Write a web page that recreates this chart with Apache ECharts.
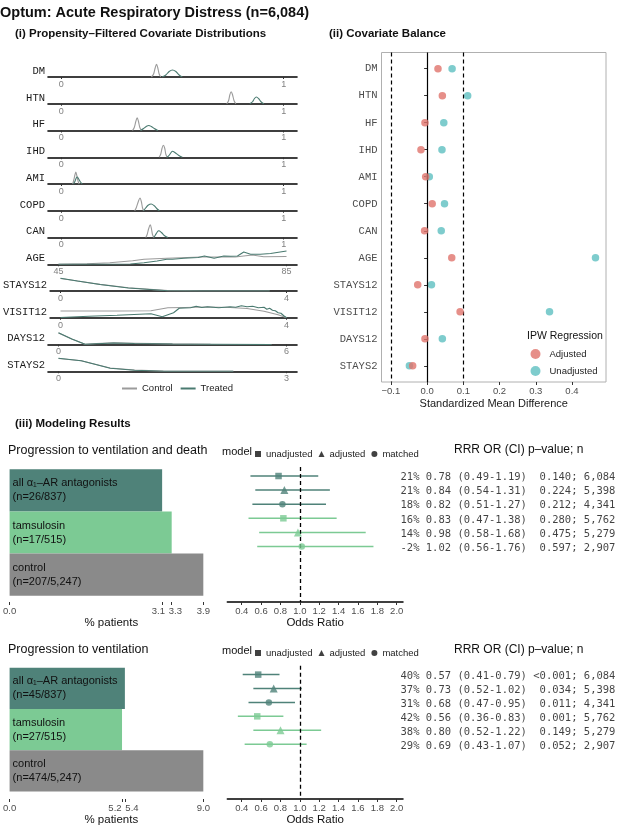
<!DOCTYPE html>
<html><head><meta charset="utf-8">
<script src="https://cdn.jsdelivr.net/npm/echarts@6/dist/echarts.min.js"></script>
<style>html,body{margin:0;padding:0;background:#fff}#c{width:617px;height:827px}</style>
</head><body><div id="c"></div>
<script>
// ---------- data ----------
const covariates = ['DM','HTN','HF','IHD','AMI','COPD','CAN','AGE','STAYS12','VISIT12','DAYS12','STAYS2'];
const densityTicks = [[0,1],[0,1],[0,1],[0,1],[0,1],[0,1],[0,1],[45,85],[0,4],[0,4],[0,6],[0,3]];
const controlDensity = [
  [[0.405,0],[0.415,3],[0.422,9],[0.428,12.7],[0.434,9],[0.44,3],[0.447,0]],
  [[0.744,0],[0.752,3],[0.758,9],[0.764,12],[0.77,9],[0.777,3],[0.785,0]],
  [[0.32,0],[0.328,3],[0.335,9],[0.341,12.7],[0.347,9],[0.353,3],[0.36,0]],
  [[0.44,0],[0.447,3],[0.453,9],[0.459,12],[0.465,9],[0.47,3],[0.476,0]],
  [[0.051,0],[0.056,4],[0.061,9],[0.065,12],[0.07,8],[0.075,3],[0.08,0]],
  [[0.33,0],[0.337,3],[0.346,9],[0.354,12.7],[0.36,9],[0.365,3],[0.37,0]],
  [[0.38,0],[0.386,3],[0.393,9],[0.4,12.7],[0.405,9],[0.41,3],[0.416,0]],
  [[45,0],[50,0.5],[54,1.5],[58,3.5],[60,5],[64,6],[70,7.3],[76,7.3],[79,9.3],[81,7.5],[85,7.7]],
  [[0,12.5],[0.3,10],[0.7,6.6],[1.2,3.2],[1.9,0.4],[2.5,0],[3.7,0]],
  [[0,6.7],[0.5,6.7],[1,6.7],[1.6,7],[1.9,10],[2.2,10.3],[2.6,10.7],[3,10.3],[3.3,9.3],[3.6,6.5],[3.85,3],[4,0]],
  [[0,11.5],[0.35,5.6],[0.7,0.3],[1,1],[1.45,1.6],[2,1.2],[3,0.6],[4,0.3],[5.6,0]],
  [[0,12.8],[0.3,10.5],[0.68,3.3],[1,1.2],[1.38,0.1],[2.3,0]]
];
const treatedDensity = [
  [[0.453,0],[0.47,2],[0.485,5.5],[0.5,7],[0.515,5.5],[0.53,2],[0.544,0]],
  [[0.848,0],[0.86,2],[0.868,5],[0.877,6.7],[0.888,5],[0.898,2],[0.911,0]],
  [[0.356,0],[0.37,2],[0.382,4],[0.393,5],[0.405,4],[0.418,2],[0.434,0]],
  [[0.476,0],[0.485,2],[0.493,4.5],[0.5,6],[0.512,4.5],[0.527,2],[0.544,0]],
  [[0.055,0],[0.062,3],[0.067,6],[0.072,7],[0.078,5],[0.086,2],[0.094,0]],
  [[0.37,0],[0.38,3],[0.39,5.5],[0.404,6.7],[0.418,5],[0.43,2],[0.441,0]],
  [[0.416,0],[0.423,2.5],[0.43,5],[0.438,6.7],[0.45,5],[0.463,2],[0.479,0]],
  [[45,0],[53,0],[57.6,0.3],[60,1.5],[62.3,3.3],[64,5],[65,5],[67,6],[69.5,6.7],[70.6,8.3],[72.3,6],[74,8.3],[75.2,8],[76.4,8.3],[77.5,12.3],[78.7,10],[80.4,10],[82.2,10.7],[85,13.3]],
  [[0,12.7],[0.3,10],[0.7,6.5],[1.2,3],[1.9,0.3],[2.5,0],[3.7,0]],
  [[0,0.3],[0.5,1.5],[1,2.5],[1.6,4],[1.8,1],[2,5],[2.1,9.5],[2.3,10],[2.4,11.5],[2.5,10.3],[2.6,11],[2.8,10],[3,11],[3.1,10.5],[3.2,12],[3.3,11],[3.4,11.5],[3.5,10],[3.6,10.5],[3.65,8.5],[3.7,9.5],[3.75,7.5],[3.8,7],[3.85,5],[3.9,4.5],[3.95,2],[4,0]],
  [[0,11.7],[0.35,5.5],[0.7,0.2],[1,0.8],[1.45,1.5],[2,1],[3,0.5],[4,0.3],[5.6,0]],
  [[0,13],[0.3,10.5],[0.68,3],[1,1],[1.38,0],[2.3,0]]
];
const smdAdjusted   = [0.030,0.042,-0.006,-0.017,-0.004,0.014,-0.007,0.068,-0.026,0.091,-0.006,-0.040];
const smdUnadjusted = [0.069,0.112,0.046,0.041,0.006,0.048,0.039,0.465,0.012,0.338,0.042,-0.049];
const smdTicks = [-0.1,0,0.1,0.2,0.3,0.4];

const groups = ['all α₁–AR antagonists','tamsulosin','control'];
const groupTotals = [837,515,5247];
const ventDeathEvents = [26,17,207];
const ventEvents = [45,27,474];
const models = ['unadjusted','adjusted','matched'];
const orTicks = [0.4,0.6,0.8,1.0,1.2,1.4,1.6,1.8,2.0];

const ventDeathRRR = ['21%','21%','18%','16%','14%','-2%'];
const ventDeathOR  = [0.78,0.84,0.82,0.83,0.98,1.02];
const ventDeathLo  = [0.49,0.54,0.51,0.47,0.58,0.56];
const ventDeathHi  = [1.19,1.31,1.27,1.38,1.68,1.76];
const ventDeathP   = ['0.140','0.224','0.212','0.280','0.475','0.597'];
const ventRRR = ['40%','37%','31%','42%','38%','29%'];
const ventOR  = [0.57,0.73,0.68,0.56,0.80,0.69];
const ventLo  = [0.41,0.52,0.47,0.36,0.52,0.43];
const ventHi  = [0.79,1.02,0.95,0.83,1.22,1.07];
const ventP   = ['<0.001','0.034','0.011','0.001','0.149','0.052'];
const modelN  = ['6,084','5,398','4,341','5,762','5,279','2,907'];

// ---------- build ----------
const SANS='Liberation Sans', MONO='Liberation Mono', TMONO='DejaVu Sans Mono';
const CTRL='#9b9b9b', TRT='#4a7a70';
const RED='#e0736c', TEAL='#5ebfc1';
const DARK='#4f8279', LIGHT='#7cca94', GRAY='#8a8a8a';
const barColors=[DARK, LIGHT, GRAY];
const grid=[], xAxis=[], yAxis=[], series=[];

covariates.forEach((name,i)=>{
  const lineY = 77 + i*26.75;
  grid.push({left:48, top:lineY-14, width:249, height:14});
  const t = densityTicks[i], span=t[1]-t[0], e = i<7?0.06:0.046;
  xAxis.push({gridIndex:i, type:'value', min:t[0]-e*span, max:t[1]+e*span, splitLine:{show:false},
    axisLine:{onZero:false, lineStyle:{color:'#000',width:1.6}},
    axisTick:{show:true, customValues:t, length:2, lineStyle:{color:'#333'}},
    axisLabel:{customValues:t, color:'#808080', fontSize:9, margin:3, formatter:v=>String(v)}});
  yAxis.push({gridIndex:i, type:'value', min:0, max:14, splitLine:{show:false}, axisLine:{show:false}, axisTick:{show:false},
    axisLabel:{customValues:[6], formatter:()=>name, fontFamily:MONO, fontSize:10.5, color:'#1a1a1a', margin:3}});
  series.push({type:'line', name:'Control', xAxisIndex:i, yAxisIndex:i, data:controlDensity[i], showSymbol:false, smooth:i<7?0.35:false,
    lineStyle:{color:CTRL,width:1.1}, itemStyle:{color:CTRL}, z:2});
  series.push({type:'line', name:'Treated', xAxisIndex:i, yAxisIndex:i, data:treatedDensity[i], showSymbol:false, smooth:i<7?0.35:false,
    lineStyle:{color:TRT,width:1.1}, itemStyle:{color:TRT}, z:3});
});

// covariate balance
let gb = grid.length;
grid.push({left:381.5, top:52.5, width:224.5, height:329.5, show:true, borderColor:'#b0b0b0', borderWidth:1});
xAxis.push({gridIndex:gb, type:'value', min:-0.126, max:0.494, splitLine:{show:false}, axisLine:{show:false},
  axisTick:{show:true, customValues:smdTicks, length:3, lineStyle:{color:'#333'}},
  axisLabel:{customValues:smdTicks, color:'#4d4d4d', fontSize:9.5, margin:4, formatter:v=>v.toFixed(1).replace('-','−')},
  name:'Standardized Mean Difference', nameLocation:'middle', nameGap:16, nameTextStyle:{fontSize:11, color:'#1a1a1a'}});
const rowIdx = covariates.map((c,i)=>i+1);
yAxis.push({gridIndex:gb, type:'value', inverse:true, min:0.4, max:12.6, splitLine:{show:false}, axisLine:{show:false},
  axisTick:{show:true, customValues:rowIdx, length:3, lineStyle:{color:'#333'}},
  axisLabel:{customValues:rowIdx, formatter:v=>covariates[Math.round(v)-1], fontFamily:MONO, fontSize:10.5, color:'#4d4d4d', margin:4}});
series.push({type:'scatter', name:'Unadjusted', xAxisIndex:gb, yAxisIndex:gb, data:smdUnadjusted.map((v,i)=>[v,i+1]),
  symbolSize:7.5, itemStyle:{color:TEAL}, z:4,
  markLine:{silent:true, symbol:'none', label:{show:false}, lineStyle:{color:'#000', width:1.2, type:[4,3]},
    data:[{xAxis:-0.1},{xAxis:0.1},{xAxis:0, lineStyle:{type:'solid', color:'#000', width:1.2}}]}});
series.push({type:'scatter', name:'Adjusted', xAxisIndex:gb, yAxisIndex:gb, data:smdAdjusted.map((v,i)=>[v,i+1]),
  symbolSize:7.5, itemStyle:{color:RED}, z:5});

// modeling panels
const panels = [
  {events:ventDeathEvents, rrr:ventDeathRRR, or:ventDeathOR, lo:ventDeathLo, hi:ventDeathHi, p:ventDeathP, barTop:469.3, axisY:602, forestTop:467},
  {events:ventEvents, rrr:ventRRR, or:ventOR, lo:ventLo, hi:ventHi, p:ventP, barTop:667.7, axisY:801.5, forestTop:665.7}
];
const fmtInt = n => n.toLocaleString('en-US');
panels.forEach(P=>{
  const pct = P.events.map((e,i)=>e/groupTotals[i]*100);
  const xmax = Math.max(...pct)*1.05;
  const barW = 204.7;
  const gi = grid.length;
  const barH = 126.4;
  grid.push({left:8.3, top:P.barTop, width:barW, height:barH});
  const ticks = [0, ...pct];
  const shift = {};
  const sorted = pct.slice().sort((a,b)=>a-b);
  for (let k=0;k<sorted.length-1;k++){
    const gap=(sorted[k+1]-sorted[k])/xmax*barW;
    if (gap<17){ const s=(17-gap)/2; shift[sorted[k]]=-s; shift[sorted[k+1]]=s; }
  }
  const rich = {};
  ticks.forEach((v,k)=>{ const s=shift[v]||0; rich['t'+k]={fontSize:9.5,color:'#4d4d4d',padding:s<0?[0,-2*s,0,0]:[0,0,0,2*s]}; });
  xAxis.push({gridIndex:gi, type:'value', min:0, max:xmax, offset:P.axisY-(P.barTop+barH), splitLine:{show:false},
    axisLine:{lineStyle:{color:'#000',width:1.5}},
    axisTick:{show:true, customValues:ticks, length:3, lineStyle:{color:'#333'}},
    axisLabel:{customValues:ticks, margin:4, formatter:v=>{const k=ticks.findIndex(t=>Math.abs(t-v)<1e-9); return '{t'+k+'|'+v.toFixed(1)+'}';}, rich},
    name:'% patients', nameLocation:'middle', nameGap:15, nameTextStyle:{fontSize:11.5,color:'#111'}});
  yAxis.push({gridIndex:gi, type:'category', inverse:true, data:groups, show:false});
  series.push({type:'bar', xAxisIndex:gi, yAxisIndex:gi, barCategoryGap:'0%', barWidth:'100%',
    data:pct.map((v,i)=>({value:v, itemStyle:{color:barColors[i]}})),
    label:{show:true, position:'insideLeft', distance:3, fontSize:11, lineHeight:14, color:'#111', align:'left',
      formatter:pp=>groups[pp.dataIndex]+'\n(n='+P.events[pp.dataIndex]+'/'+fmtInt(groupTotals[pp.dataIndex])+')'}});
  // forest
  const gf = grid.length;
  grid.push({left:227.3, top:P.forestTop, width:175.7, height:135});
  xAxis.push({gridIndex:gf, type:'value', min:0.251, max:2.065, splitLine:{show:false},
    axisLine:{onZero:false, lineStyle:{color:'#000',width:1.5}},
    axisTick:{show:true, customValues:orTicks, length:3, lineStyle:{color:'#333'}},
    axisLabel:{customValues:orTicks, color:'#4d4d4d', fontSize:9.5, margin:4, formatter:v=>v.toFixed(1)},
    name:'Odds Ratio', nameLocation:'middle', nameGap:15, nameTextStyle:{fontSize:11.5,color:'#111'}});
  yAxis.push({gridIndex:gf, type:'value', inverse:true, min:0.36, max:9.94, show:false});
  const rowColor = i => i<3?DARK:LIGHT;
  series.push({type:'custom', xAxisIndex:gf, yAxisIndex:gf, z:3,
    data:P.lo.map((l,i)=>[l,P.hi[i],i+1]),
    renderItem:(params,api)=>{
      const y=api.value(2), a=api.coord([api.value(0),y]), b=api.coord([api.value(1),y]);
      return {type:'line', shape:{x1:a[0],y1:a[1],x2:b[0],y2:b[1]}, style:{stroke:rowColor(params.dataIndex), lineWidth:1.5}};
    },
    markLine:{silent:true, symbol:'none', label:{show:false}, lineStyle:{color:'#000',width:1.3,type:[4,3]}, data:[{xAxis:1}]}});
  const shapes = ['rect','triangle','circle'], sizes=[6.5,8,6.5];
  models.forEach((m,k)=>{
    series.push({type:'scatter', name:m, xAxisIndex:gf, yAxisIndex:gf, symbol:shapes[k], symbolSize:sizes[k], z:5,
      itemStyle:{color:'#111'},
      data:[{value:[P.or[k],k+1], itemStyle:{color:DARK}},{value:[P.or[k+3],k+4], itemStyle:{color:LIGHT}}]});
  });
  // table
  const gt = grid.length;
  grid.push({left:400, top:P.forestTop+1.5, width:216, height:135});
  xAxis.push({gridIndex:gt, type:'value', min:0, max:1, show:false});
  yAxis.push({gridIndex:gt, type:'value', inverse:true, min:0.36, max:9.94, show:false});
  series.push({type:'scatter', xAxisIndex:gt, yAxisIndex:gt, symbolSize:1, itemStyle:{color:'rgba(0,0,0,0)'}, z:6,
    data:P.or.map((v,i)=>[0,i+1]),
    label:{show:true, position:'right', distance:0, fontFamily:TMONO, fontSize:10.5, color:'#111',
      formatter:pp=>{const i=pp.dataIndex; return P.rrr[i].padStart(3)+' '+P.or[i].toFixed(2)+' ('+P.lo[i].toFixed(2)+'-'+P.hi[i].toFixed(2)+') '+P.p[i].padStart(6)+'; '+modelN[i];}}});
});

const T=(text,left,top,size,bold)=>({text,left,top,padding:0,textStyle:{fontSize:size,fontWeight:bold?'bold':'normal',color:'#111',fontFamily:SANS}});
const option = {
  animation:false,
  textStyle:{fontFamily:SANS},
  title:[
    T('Optum: Acute Respiratory Distress (n=6,084)',0,5.5,14.5,true),
    T('(i) Propensity–Filtered Covariate Distributions',15,27.5,11.5,true),
    T('(ii) Covariate Balance',329,27.5,11.5,true),
    T('(iii) Modeling Results',15,417.5,11.5,true),
    T('Progression to ventilation and death',8,444,12.5,false),
    T('RRR OR (CI) p–value; n',454,444,12,false),
    T('model',222,446,11,false),
    T('Progression to ventilation',8,643,12.5,false),
    T('RRR OR (CI) p–value; n',454,643.5,12,false),
    T('model',222,645,11,false),
    T('IPW Regression',527,330.5,10.5,false)
  ],
  legend:[
    {data:['Control','Treated'], left:122, top:383.5, icon:'rect', itemWidth:15, itemHeight:2, itemGap:8, padding:0, textStyle:{fontSize:9.5,color:'#222'}},
    {data:['Adjusted','Unadjusted'], orient:'vertical', left:530.5, top:349, icon:'circle', itemWidth:10, itemHeight:10, itemGap:7, padding:0, textStyle:{fontSize:9.5,color:'#222',padding:[0,0,0,4]}},
    {data:[{name:'unadjusted',icon:'rect'},{name:'adjusted',icon:'triangle'},{name:'matched',icon:'circle'}], left:255, top:449, itemWidth:6, itemHeight:6, itemGap:6, padding:0, textStyle:{fontSize:9.5,color:'#222'}},
    {data:[{name:'unadjusted',icon:'rect'},{name:'adjusted',icon:'triangle'},{name:'matched',icon:'circle'}], left:255, top:648, itemWidth:6, itemHeight:6, itemGap:6, padding:0, textStyle:{fontSize:9.5,color:'#222'}}
  ],
  grid, xAxis, yAxis, series
};
const chart = echarts.init(document.getElementById('c'), null, {renderer:'canvas'});
chart.setOption(option);
</script></body></html>
